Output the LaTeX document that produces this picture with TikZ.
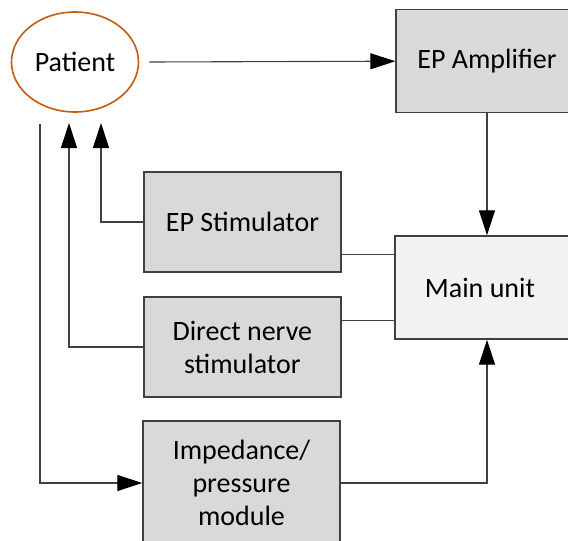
\documentclass[tikz,border=0pt]{standalone}
\usepackage{fontspec}
\setmainfont{Carlito}
\usetikzlibrary{arrows.meta,shapes.geometric,calc}
\definecolor{boxgray}{HTML}{D9D9D9}
\definecolor{mainfill}{HTML}{F2F2F2}
\definecolor{edge}{HTML}{404040}
\definecolor{patorange}{HTML}{C55A11}
\tikzset{
  blk/.style={draw=edge, line width=1.4pt, fill=boxgray, rectangle, inner sep=0pt,
    align=center, font=\fontsize{28}{33}\selectfont},
  mainblk/.style={blk, fill=mainfill},
  pat/.style={draw=patorange, line width=1.6pt, ellipse, inner sep=0pt,
    minimum width=127pt, minimum height=100pt, font=\fontsize{28}{33}\selectfont},
  conn/.style={draw=edge, line width=1.1pt},
  arr/.style={conn, -{Triangle[length=25pt,width=16pt,color=black]}},
}
\begin{document}
\begin{tikzpicture}[x=1pt,y=1pt]
\useasboundingbox (0,0) rectangle (568,-541);
\clip (0,0) rectangle (568,-541);
\node[pat] (patient) at (75,-62) {Patient};
\node[blk, minimum width=182pt, minimum height=103pt] (amp) at (487,-61.2) {EP Amplifier};
\node[blk, minimum width=197pt, minimum height=100pt] (eps) at (242.5,-222) {EP Stimulator};
\node[blk, minimum width=197pt, minimum height=100pt] (dns) at (242.3,-347) {Direct nerve\\stimulator};
\node[blk, minimum width=197pt, minimum height=124pt] (imp) at (241.5,-483) {Impedance/\\pressure\\module};
\node[mainblk, minimum width=184pt, minimum height=103pt] (main) at (487,-287.5) {\hspace*{-14pt}Main unit};
% Patient -> EP Amplifier
\draw[arr] ([xshift=10pt]patient.east) -- (amp.west);
% EP Amplifier -> Main unit
\draw[arr] (amp.south) -- (main.north);
% Patient -> Impedance module
\coordinate (lstart) at (40,-124);
\draw[arr] (lstart) |- (imp.west);
% Direct nerve stimulator -> Patient
\coordinate (dnstip) at (69,-123);
\draw[arr] (dns.west) -| (dnstip);
% EP Stimulator -> Patient
\coordinate (epstip) at (101,-123);
\draw[arr] (eps.west) -| (epstip);
% Stimulators -- Main unit
\draw[conn] ($(main.west)+(0,33)$) -- ($(eps.east |- main.west)+(0,33)$);
\draw[conn] ($(main.west)+(0,-33)$) -- ($(dns.east |- main.west)+(0,-33)$);
% Impedance -> Main unit
\draw[arr] (imp.east) -| (main.south);
\end{tikzpicture}
\end{document}
